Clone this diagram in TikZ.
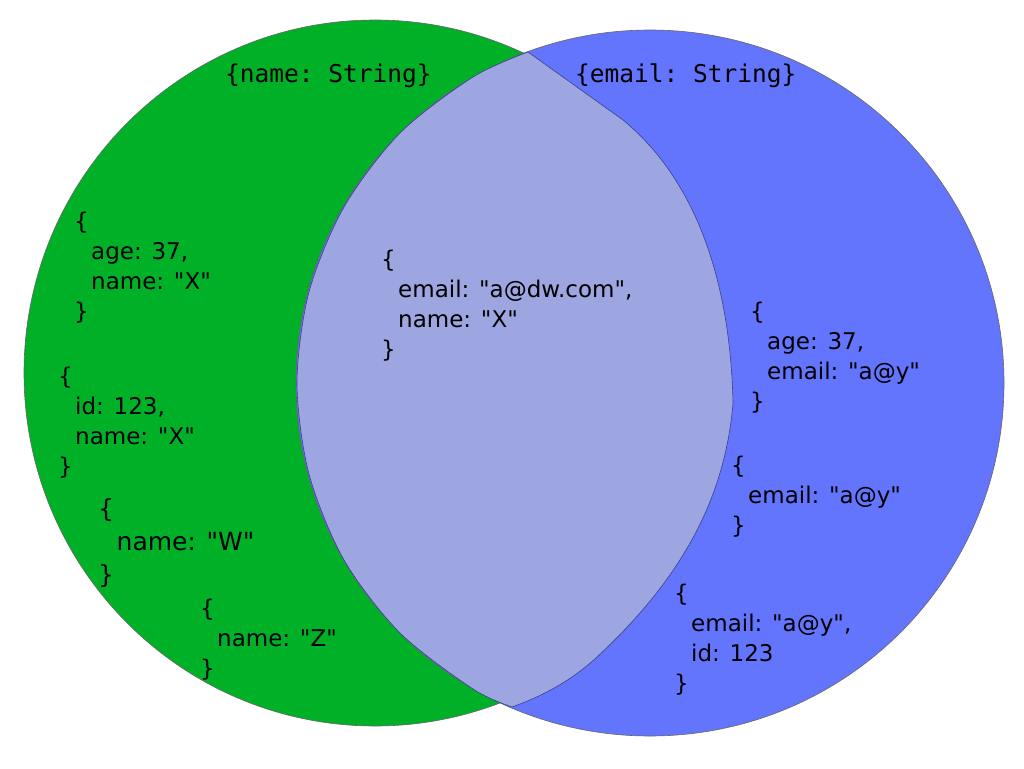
\documentclass[tikz,border=0pt]{standalone}
\usepackage{fontspec}
\setmainfont{DejaVu Sans}[Ligatures=TeXOff]
\setmonofont{DejaVu Sans Mono}
\usetikzlibrary{positioning}

\definecolor{namegreen}{RGB}{0,176,38}
\definecolor{emailblue}{RGB}{99,117,253}
\definecolor{bothlilac}{RGB}{157,166,224}
\newcommand\docindent{\hspace*{0.74em}}
\newcommand\docbox[1]{\begin{tabular}[t]{@{}l@{}}#1\end{tabular}}

\begin{document}
\begin{tikzpicture}[x=1pt, y=-1pt,
    set/.style={draw=black!60, line width=0.6pt},
    lens/.style={draw=black!45!emailblue, line width=0.6pt, fill=bothlilac},
    settitle/.style={anchor=base west, inner sep=0pt, font=\ttfamily\fontsize{24.5}{28}\selectfont},
    doc/.style={anchor=base west, inner sep=0pt, font=\fontsize{23}{30}\selectfont}]
  \useasboundingbox (0,0) rectangle (1024,768);

  % the two sets
  \draw[set, fill=namegreen] (375,373) ellipse [x radius=351pt, y radius=353pt];
  \draw[set, fill=emailblue] (650,383) ellipse [x radius=354pt, y radius=353pt];

  % both fields
  \draw[lens] (528,52) -- (623,120)
    .. controls (690,175) and (730,270) .. (733,403)
    .. controls (725,500) and (680,580) .. (597,657)
    .. controls (570,682) and (540,697) .. (512,707)
    -- plot[smooth] coordinates {(512,707) (473,689) (400,633) (344,560) (309,474) (297,383) (309,292) (344,207) (400,133) (473,77) (528,52)}
    -- cycle;

  \node[settitle] (nametitle) at (225,82) {\{name: String\}};
  \node[settitle] (emailtitle) at (575,82) {\{email: String\}};

  \node[doc] (agename) at (74,229) {\docbox{\{\\\docindent age: 37,\\\docindent name: "X"\\\}}};
  \node[doc] (idname) at (58,384) {\docbox{\{\\\docindent id: 123,\\\docindent name: "X"\\\}}};
  \node[doc, font=\fontsize{25}{33}\selectfont] (wname) at (98,517) {\docbox{\{\\\docindent name: "W"\\\}}};
  \node[doc] (zname) at (200,616) {\docbox{\{\\\docindent name: "Z"\\\}}};

  \node[doc] (emailname) at (381,267) {\docbox{\{\\\docindent email: "a@dw.com",\\\docindent name: "X"\\\}}};

  \node[doc] (ageemail) at (750,319) {\docbox{\{\\\docindent age: 37,\\\docindent email: "a@y"\\\}}};
  \node[doc] (email) at (731,473) {\docbox{\{\\\docindent email: "a@y"\\\}}};
  \node[doc] (emailid) at (674,601) {\docbox{\{\\\docindent email: "a@y",\\\docindent id: 123\\\}}};
\end{tikzpicture}
\end{document}
